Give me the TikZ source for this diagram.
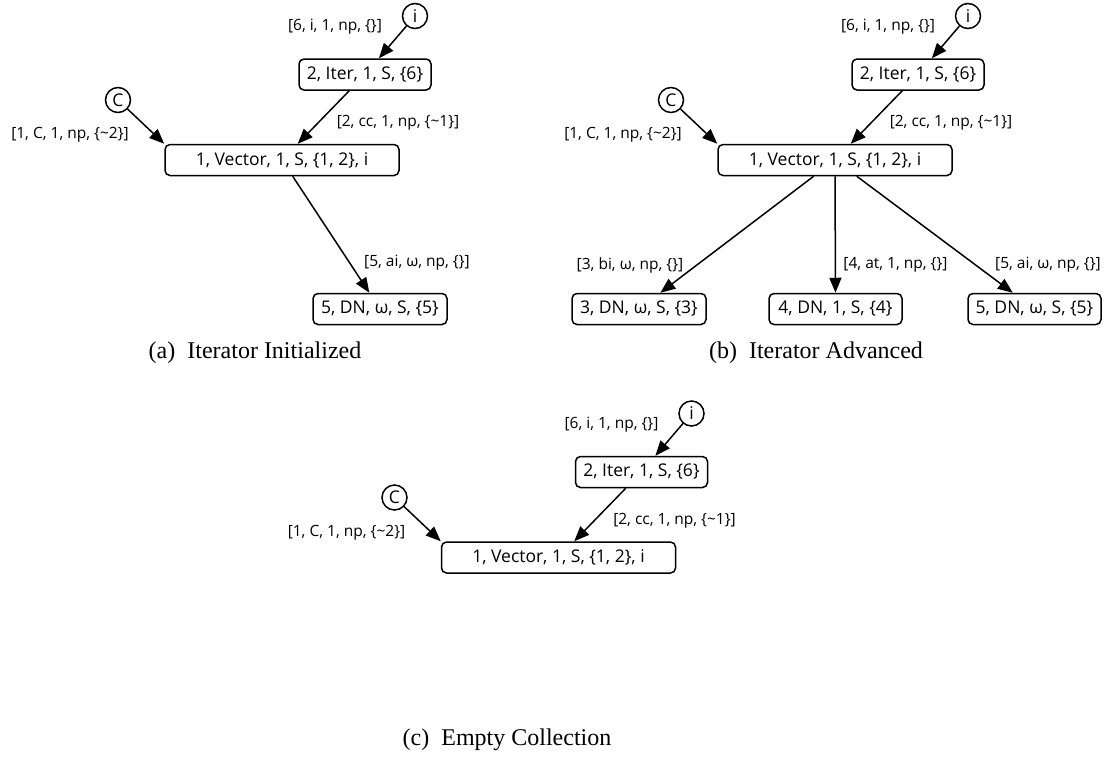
\documentclass[tikz,border=0pt]{standalone}
\usepackage{fontspec}
\setmainfont{Liberation Serif}
\newfontfamily\gvfont{Open Sans}
\usetikzlibrary{arrows.meta}
\newcommand{\tl}{\textasciitilde}
\tikzset{
  box/.style={draw, line width=1.5pt, rounded corners=5pt, minimum height=31pt,
              inner sep=0pt, font=\gvfont\fontsize{17.5}{19}\selectfont},
  ref/.style={circle, draw, line width=1.5pt, minimum size=25pt, inner sep=0pt,
              font=\gvfont\fontsize{17.5}{19}\selectfont},
  lbl/.style={inner sep=0pt, font=\gvfont\fontsize{15.5}{17}\selectfont},
  edge/.style={-{Triangle[length=15pt,width=12pt]}, line width=1.5pt},
  subcaption/.style={inner sep=0pt, font=\fontsize{24}{26}\selectfont}
}
\begin{document}
\begin{tikzpicture}[x=1pt,y=-1pt]
\useasboundingbox (0,0) rectangle (1115,772);

% (a) iterator initialized
\node[ref] (ai) at (415,16) {i};
\node[box, minimum width=132pt] (aiter) at (365,74.5) {2, Iter, 1, S, \{6\}};
\node[ref] (ac) at (118,100) {C};
\node[box, minimum width=234pt] (avec) at (282,160) {1, Vector, 1, S, \{1, 2\}, i};
\node[box, minimum width=134pt] (adn5) at (380,309) {5, DN, ω, S, \{5\}};
\draw[edge] (ai) -- (aiter);
\draw[edge] (ac) -- (avec.north west);
\draw[edge] (aiter) -- (avec);
\draw[edge] (avec) -- (adn5);
\node[lbl] (al6) at (335,27) {[6, i, 1, np, \{\}]};
\node[lbl] (al1) at (70,135) {[1, C, 1, np, \{\tl2\}]};
\node[lbl] (al2) at (398,123) {[2, cc, 1, np, \{\tl1\}]};
\node[lbl] (al5) at (417,263) {[5, ai, ω, np, \{\}]};
\node[subcaption] (capa) at (255,353) {(a)~~Iterator Initialized};

% (b) iterator advanced
\node[ref] (bi) at (968,16) {i};
\node[box, minimum width=132pt] (biter) at (918,74.5) {2, Iter, 1, S, \{6\}};
\node[ref] (bc) at (671,100) {C};
\node[box, minimum width=234pt] (bvec) at (835,160) {1, Vector, 1, S, \{1, 2\}, i};
\node[box, minimum width=134pt] (bdn3) at (639,309) {3, DN, ω, S, \{3\}};
\node[box, minimum width=133pt] (bdn4) at (835.5,309) {4, DN, 1, S, \{4\}};
\node[box, minimum width=133pt] (bdn5) at (1034.5,309) {5, DN, ω, S, \{5\}};
\draw[edge] (bi) -- (biter);
\draw[edge] (bc) -- (bvec.north west);
\draw[edge] (biter) -- (bvec);
\draw[edge] (bvec) -- (bdn3);
\draw[edge] (bvec) -- (bdn4);
\draw[edge] (bvec) -- (bdn5);
\node[lbl] (bl6) at (888,27) {[6, i, 1, np, \{\}]};
\node[lbl] (bl1) at (623,135) {[1, C, 1, np, \{\tl2\}]};
\node[lbl] (bl2) at (951,123) {[2, cc, 1, np, \{\tl1\}]};
\node[lbl] (bl3) at (630,265) {[3, bi, ω, np, \{\}]};
\node[lbl] (bl4) at (895.5,265) {[4, at, 1, np, \{\}]};
\node[lbl] (bl5) at (1048,265) {[5, ai, ω, np, \{\}]};
\node[subcaption] (capb) at (816,353) {(b)~~Iterator Advanced};

% (c) empty collection
\node[ref] (ci) at (691.5,413.5) {i};
\node[box, minimum width=132pt] (citer) at (641.5,472) {2, Iter, 1, S, \{6\}};
\node[ref] (cc) at (394.5,497.5) {C};
\node[box, minimum width=234pt] (cvec) at (558.5,557.5) {1, Vector, 1, S, \{1, 2\}, i};
\draw[edge] (ci) -- (citer);
\draw[edge] (cc) -- (cvec.north west);
\draw[edge] (citer) -- (cvec);
\node[lbl] (cl6) at (611.5,424.5) {[6, i, 1, np, \{\}]};
\node[lbl] (cl1) at (346.5,532.5) {[1, C, 1, np, \{\tl2\}]};
\node[lbl] (cl2) at (674.5,520.5) {[2, cc, 1, np, \{\tl1\}]};
\node[subcaption] (capc) at (507,740) {(c)~~Empty Collection};
\end{tikzpicture}
\end{document}
